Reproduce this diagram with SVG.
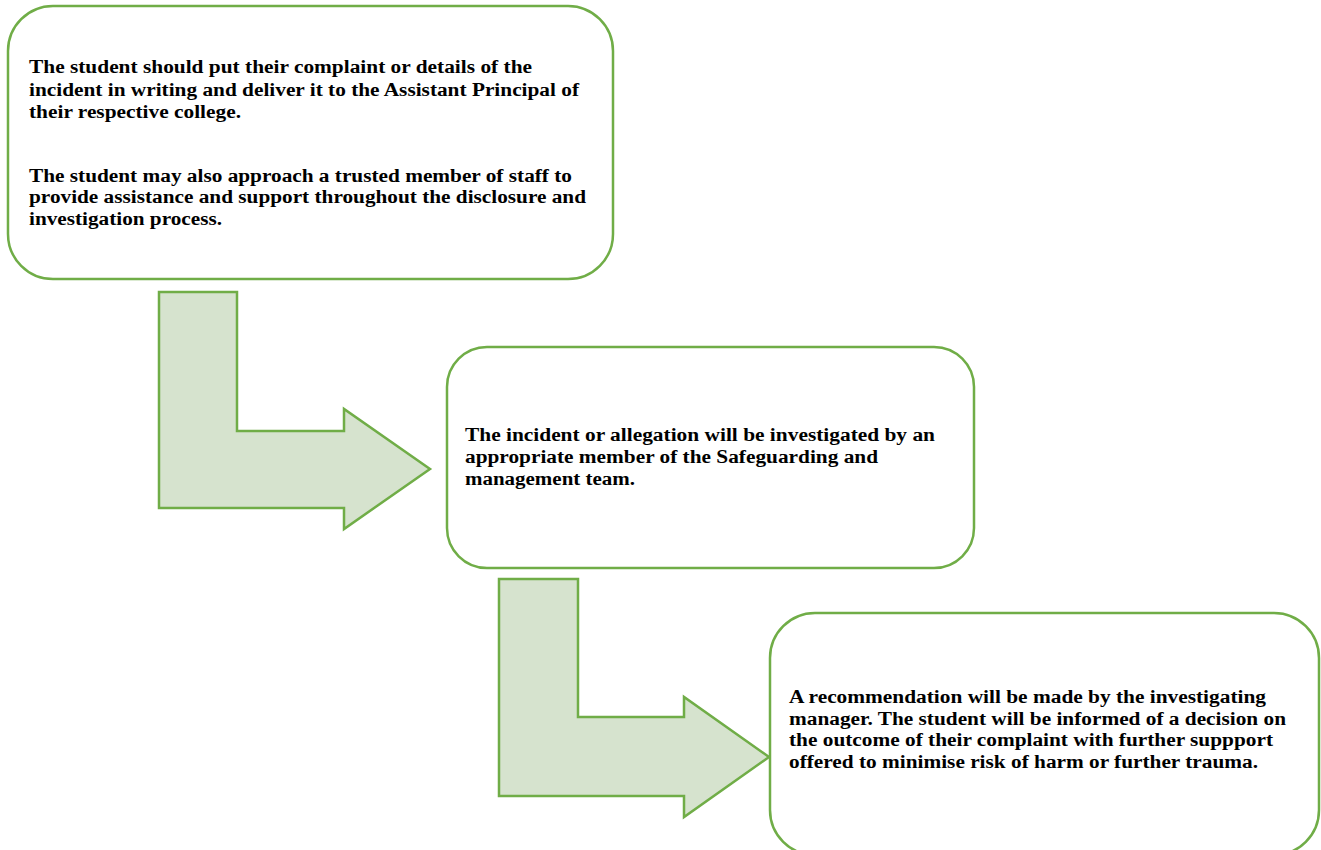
<svg xmlns="http://www.w3.org/2000/svg" width="1321" height="850" viewBox="0 0 1321 850">
<style>
.box{fill:#ffffff;stroke:#70AD47;stroke-width:2.5}
.arrow{fill:#D6E3CE;stroke:#70AD47;stroke-width:2.5;stroke-linejoin:miter}
.t{font-family:"Liberation Serif","Times New Roman",serif;font-weight:bold;font-size:18px;fill:#000000}
</style>
<rect width="1321" height="850" fill="#ffffff"/>
<g id="connectors">
<polygon class="arrow" points="159,292 237,292 237,431 344,431 344,409 430,469 344,529 344,508 159,508"/>
<polygon class="arrow" points="499,579 578,579 578,717 684,717 684,697 769,757 684,817 684,796 499,796"/>
</g>
<g id="node1">
<rect class="box" x="8" y="6" width="605" height="273" rx="45" ry="45"/>
<text class="t" x="29" y="73" textLength="503" lengthAdjust="spacingAndGlyphs">The student should put their complaint or details of the</text>
<text class="t" x="29" y="95.5" textLength="550" lengthAdjust="spacingAndGlyphs">incident in writing and deliver it to the Assistant Principal of</text>
<text class="t" x="29" y="117.5" textLength="212" lengthAdjust="spacingAndGlyphs">their respective college.</text>
<text class="t" x="29" y="181.5" textLength="543" lengthAdjust="spacingAndGlyphs">The student may also approach a trusted member of staff to</text>
<text class="t" x="29" y="203" textLength="557" lengthAdjust="spacingAndGlyphs">provide assistance and support throughout the disclosure and</text>
<text class="t" x="29" y="224.5" textLength="193" lengthAdjust="spacingAndGlyphs">investigation process.</text>
</g>
<g id="node2">
<rect class="box" x="447" y="347" width="527" height="221" rx="40" ry="40"/>
<text class="t" x="465" y="441" textLength="470" lengthAdjust="spacingAndGlyphs">The incident or allegation will be investigated by an</text>
<text class="t" x="465" y="463" textLength="413" lengthAdjust="spacingAndGlyphs">appropriate member of the Safeguarding and</text>
<text class="t" x="465" y="484.5" textLength="170" lengthAdjust="spacingAndGlyphs">management team.</text>
</g>
<g id="node3">
<rect class="box" x="770" y="613" width="549" height="242" rx="45" ry="45"/>
<text class="t" x="789" y="702.5" textLength="477" lengthAdjust="spacingAndGlyphs">A recommendation will be made by the investigating</text>
<text class="t" x="789" y="724.5" textLength="497" lengthAdjust="spacingAndGlyphs">manager. The student will be informed of a decision on</text>
<text class="t" x="789" y="746" textLength="484" lengthAdjust="spacingAndGlyphs">the outcome of their complaint with further suppport</text>
<text class="t" x="789" y="768" textLength="469" lengthAdjust="spacingAndGlyphs">offered to minimise risk of harm or further trauma.</text>
</g>
</svg>
